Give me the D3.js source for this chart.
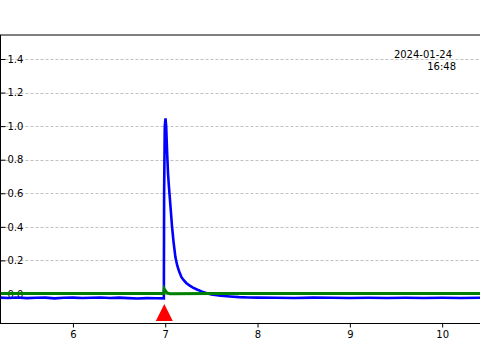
<!DOCTYPE html>
<html>
<head>
<meta charset="utf-8">
<script src="https://cdn.jsdelivr.net/npm/d3@7"></script>
<style>
html,body{margin:0;padding:0;background:#fff;}
svg{display:block;}
text{font-family:"DejaVu Sans",sans-serif;font-size:10px;fill:#000;}
</style>
</head>
<body>
<svg id="chart" width="480" height="360"></svg>
<script>
// ---- data ----
const yTicks = [0.0, 0.2, 0.4, 0.6, 0.8, 1.0, 1.2, 1.4];
const xTicks = [6, 7, 8, 9, 10];
const blueX = [5.21, 5.3, 5.4, 5.5, 5.6, 5.7, 5.8, 5.9, 6.0, 6.1, 6.2, 6.3, 6.4, 6.5, 6.6, 6.7, 6.8, 6.9, 6.985,
  6.988, 6.995, 7.003, 7.01, 7.02, 7.03, 7.04, 7.05, 7.06, 7.074, 7.09, 7.11, 7.13, 7.15, 7.176, 7.2, 7.23, 7.266,
  7.3, 7.35, 7.4, 7.45, 7.5, 7.6, 7.7, 7.8, 7.9, 8.0, 8.2, 8.4, 8.6, 8.8, 9.0, 9.2, 9.4, 9.6, 9.8, 10.0, 10.2, 10.41];
const blueY = [-0.022, -0.024, -0.021, -0.025, -0.023, -0.022, -0.026, -0.023, -0.022, -0.024, -0.023, -0.021, -0.024, -0.022, -0.025, -0.027, -0.025, -0.026, -0.026,
  0.6, 1.0, 1.046, 1.0, 0.85, 0.72, 0.64, 0.57, 0.5, 0.4, 0.31, 0.22, 0.17, 0.135, 0.1, 0.082, 0.064, 0.05,
  0.038, 0.025, 0.014, 0.004, -0.003, -0.01, -0.015, -0.019, -0.021, -0.022, -0.023, -0.024, -0.022, -0.023, -0.024, -0.023, -0.024, -0.023, -0.024, -0.023, -0.024, -0.023];
const greenX = [5.21, 6.0, 6.5, 6.985, 6.99, 7.0, 7.02, 7.05, 7.5, 8.0, 9.0, 10.0, 10.41];
const greenY = [0.003, 0.003, 0.003, 0.003, 0.03, 0.02, 0.006, 0.002, 0.003, 0.003, 0.003, 0.003, 0.003];
const markerX = [6.99];
const markerY = [-0.11];
const stampLines = ["2024-01-24", "16:48"];

// ---- scales ----
const svg = d3.select("#chart");
const plotLeft = 0.5, plotTop = 35, plotBottom = 323.5;
const x = d3.scaleLinear().domain([5.21, 10.41]).range([0, 480]);
const y = d3.scaleLinear().domain([-0.176, 1.543]).range([plotBottom, plotTop]);

// grid
svg.append("g").selectAll("line").data(yTicks).join("line")
  .attr("x1", plotLeft).attr("x2", 480)
  .attr("y1", d => Math.round(y(d)) + 0.5).attr("y2", d => Math.round(y(d)) + 0.5)
  .attr("stroke", "#b0b0b0").attr("stroke-width", 0.8).attr("stroke-dasharray", "3,2");

// y axis (ticks inside)
const yAxis = d3.axisRight(y).tickValues(yTicks).tickFormat(d3.format(".1f")).tickSize(5).tickPadding(2);
const gy = svg.append("g").attr("transform", `translate(${plotLeft},0)`).call(yAxis);
gy.select(".domain").remove();
gy.selectAll("text").style("font-size", "10px").style("font-family", "DejaVu Sans");

// x axis
const xAxis = d3.axisBottom(x).tickValues(xTicks).tickFormat(d3.format("d")).tickSize(4).tickPadding(3);
const gx = svg.append("g").attr("transform", `translate(0,${plotBottom})`).call(xAxis);
gx.select(".domain").remove();
gx.selectAll("text").style("font-size", "10px").style("font-family", "DejaVu Sans");

// lines
const line = d3.line().x(d => x(d[0])).y(d => y(d[1]));
svg.append("path").datum(blueX.map((v, i) => [v, blueY[i]]))
  .attr("d", line).attr("fill", "none").attr("stroke", "#0000ff").attr("stroke-width", 2.6);
svg.append("path").datum(greenX.map((v, i) => [v, greenY[i]]))
  .attr("d", line).attr("fill", "none").attr("stroke", "#008000").attr("stroke-width", 3);

// marker triangle
const tri = 8.5;
svg.append("g").selectAll("path").data(markerX.map((v, i) => [v, markerY[i]])).join("path")
  .attr("d", d => {
    const cx = x(d[0]), cy = y(d[1]);
    return `M${cx},${cy - tri}L${cx + tri},${cy + tri}L${cx - tri},${cy + tri}Z`;
  })
  .attr("fill", "#ff0000");

// spines
svg.append("line").attr("x1", plotLeft).attr("x2", plotLeft).attr("y1", plotTop).attr("y2", plotBottom).attr("stroke", "#000").attr("stroke-width", 1);
svg.append("line").attr("x1", 0).attr("x2", 480).attr("y1", plotTop).attr("y2", plotTop).attr("stroke", "#000").attr("stroke-width", 1);
svg.append("line").attr("x1", 0).attr("x2", 480).attr("y1", plotBottom).attr("y2", plotBottom).attr("stroke", "#000").attr("stroke-width", 1);

// timestamp
const st = svg.append("text").attr("text-anchor", "end");
st.append("tspan").attr("x", 452).attr("y", 58).text(stampLines[0]);
st.append("tspan").attr("x", 456).attr("y", 70).text(stampLines[1]);
</script>
</body>
</html>
